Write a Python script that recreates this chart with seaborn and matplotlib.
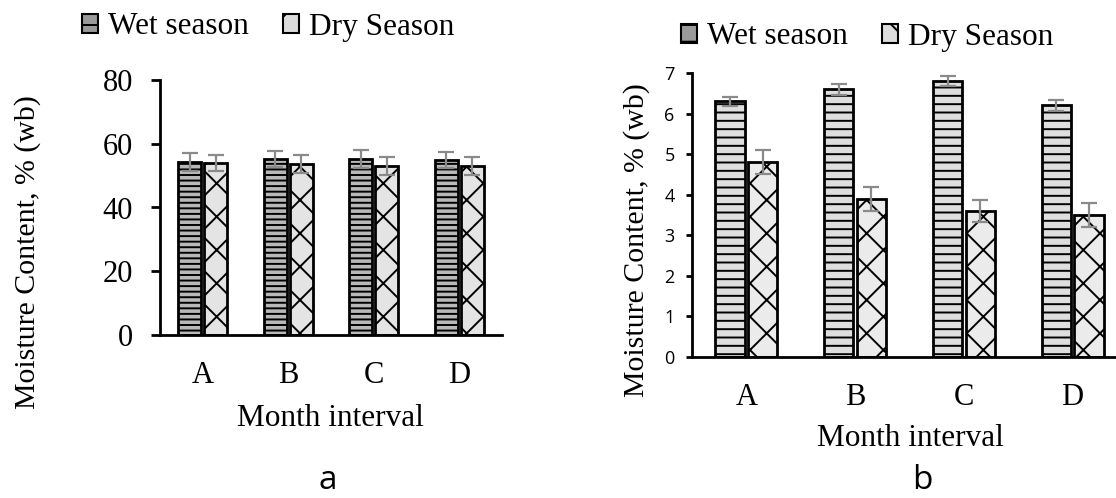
import numpy as np
import pandas as pd
import matplotlib
matplotlib.use("Agg")
import matplotlib.pyplot as plt
import seaborn as sns
from matplotlib.patches import Patch

# ---------------- data ----------------
intervals = ["A", "B", "C", "D"]
seasons = ["Wet season", "Dry Season"]

wet_a = [54.3, 55.2, 55.2, 54.9]
dry_a = [53.9, 53.6, 52.9, 52.9]
wet_a_err = [2.7, 2.5, 2.7, 2.4]
dry_a_err = [2.5, 2.8, 2.8, 2.8]

wet_b = [6.3, 6.6, 6.8, 6.2]
dry_b = [4.8, 3.9, 3.6, 3.5]
wet_b_err = [0.12, 0.13, 0.13, 0.13]
dry_b_err = [0.29, 0.29, 0.28, 0.30]

sns.set_theme(style="white")
plt.rcParams["hatch.linewidth"] = 1.4
plt.rcParams["text.color"] = "black"
plt.rcParams["xtick.color"] = "black"
plt.rcParams["ytick.color"] = "black"
plt.rcParams["xtick.labelcolor"] = "black"
plt.rcParams["ytick.labelcolor"] = "black"
serif = ["Liberation Serif", "DejaVu Serif"]
sans = ["Open Sans", "DejaVu Sans"]

fig = plt.figure(figsize=(11.16, 4.98), dpi=100)
W, H = 1116, 498


def panel(rect, wet, dry, wet_err, dry_err, colors, hatches, ylim, yticks,
          ytick_font, ytick_size, ytick_len, ytick_pad, xpad):
    ax = fig.add_axes(rect)
    df = pd.DataFrame({
        "interval": intervals * 2,
        "season": [seasons[0]] * 4 + [seasons[1]] * 4,
        "value": list(wet) + list(dry),
    })
    sns.barplot(data=df, x="interval", y="value", hue="season",
                palette=colors, hue_order=seasons, order=intervals,
                edgecolor="black", linewidth=2, width=0.6, gap=0.1,
                errorbar=None, legend=False, ax=ax)
    for cont, hatch, errs in zip(ax.containers, hatches, [wet_err, dry_err]):
        xs, hs = [], []
        for p in cont.patches:
            p.set_hatch(hatch)
            xs.append(p.get_x() + p.get_width() / 2)
            hs.append(p.get_height())
        ax.errorbar(xs, hs, yerr=errs, fmt="none", ecolor="#8a8a8a",
                    elinewidth=1.6, capsize=6, capthick=1.6, zorder=5)
    ax.set_ylim(*ylim)
    ax.set_yticks(yticks)
    ax.set_xlim(-0.5, 3.5)
    for s in ["top", "right"]:
        ax.spines[s].set_visible(False)
    for s in ["left", "bottom"]:
        ax.spines[s].set_color("black")
        ax.spines[s].set_linewidth(2)
    ax.tick_params(axis="y", length=ytick_len, width=2, color="black",
                   labelcolor="black", left=True, labelsize=ytick_size,
                   pad=ytick_pad)
    ax.tick_params(axis="x", length=0, labelsize=22, pad=xpad,
                   labelcolor="black")
    for t in ax.get_yticklabels():
        t.set_family(ytick_font)
    for t in ax.get_xticklabels():
        t.set_family(serif)
    ax.set_xlabel("")
    ax.set_ylabel("")
    return ax


# panel a
ax_a = panel([160 / W, 1 - 335 / H, (502 - 160) / W, (335 - 80) / H],
             wet_a, dry_a, wet_a_err, dry_a_err,
             ["#b8b8b8", "#e4e4e4"], ["---", "x"],
             (0, 80), [0, 20, 40, 60, 80], serif, 22, 6.5, 13, 19)

# panel b
ax_b = panel([692 / W, 1 - 357 / H, 435 / W, (357 - 73) / H],
             wet_b, dry_b, wet_b_err, dry_b_err,
             ["#dedede", "#ebebeb"], ["--", "x"],
             (0, 7), list(range(8)), sans, 13, 4.5, 8, 19)

# labels
fig.text(28 / W, 1 - 252 / H, "Moisture Content, % (wb)", rotation=90,
         ha="center", va="center", fontsize=21.5, family=serif)
fig.text(637 / W, 1 - 240 / H, "Moisture Content, % (wb)", rotation=90,
         ha="center", va="center", fontsize=21.5, family=serif)
fig.text(330 / W, 1 - 418 / H, "Month interval", ha="center", va="center",
         fontsize=22.5, family=serif)
fig.text(910 / W, 1 - 438 / H, "Month interval", ha="center", va="center",
         fontsize=22.5, family=serif)
fig.text(328 / W, 1 - 489 / H, "a", ha="center", va="baseline",
         fontsize=24, family=sans)
fig.text(922 / W, 1 - 489 / H, "b", ha="center", va="baseline",
         fontsize=24, family=sans)

# legends
def legend(center, colors, hatches, fs):
    handles = [Patch(facecolor=c, edgecolor="black", hatch=h, linewidth=1.5)
               for c, h in zip(colors, hatches)]
    fig.legend(handles, seasons, loc="center", bbox_to_anchor=center, ncol=2,
               frameon=False, prop={"family": serif, "size": fs},
               handlelength=0.52, handleheight=0.52, handletextpad=0.3,
               columnspacing=1.1, borderpad=0, labelcolor="black")

legend((268 / W, 1 - 27 / H), ["#9a9a9a", "#dcdcdc"], ["-", "/"], 22.5)
legend((867 / W, 1 - 37 / H), ["#9a9a9a", "#dcdcdc"], ["-", "\\"], 22.5)

fig.savefig("out.png", dpi=100)
